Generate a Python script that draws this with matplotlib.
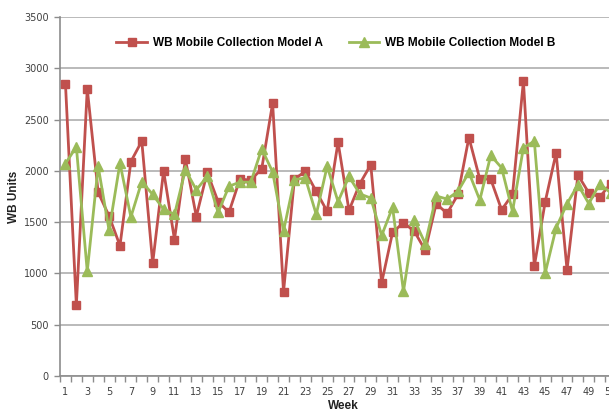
import matplotlib
matplotlib.use("Agg")
import matplotlib.pyplot as plt
from matplotlib.ticker import FixedLocator, MultipleLocator

weeks = list(range(1, 52))
model_a = [2850, 690, 2800, 1790, 1560, 1270, 2090, 2290, 1100, 2000,
           1330, 2115, 1555, 1985, 1700, 1595, 1920, 1910, 2020, 2660,
           820, 1920, 1995, 1800, 1605, 2280, 1615, 1875, 2060, 910,
           1400, 1495, 1410, 1225, 1680, 1585, 1770, 2325, 1920, 1920,
           1620, 1770, 2875, 1070, 1700, 2175, 1035, 1960, 1785, 1745,
           1875]
model_b = [2070, 2235, 1020, 2045, 1420, 2075, 1550, 1895, 1770, 1625,
           1575, 2010, 1815, 1945, 1595, 1850, 1890, 1890, 2215, 1990,
           1415, 1915, 1930, 1575, 2045, 1700, 1945, 1775, 1735, 1370,
           1645, 825, 1520, 1290, 1755, 1725, 1800, 1985, 1715, 2150,
           2030, 1605, 2225, 2290, 1005, 1445, 1680, 1865, 1680, 1875,
           1785]
label_a = "WB Mobile Collection Model A"
label_b = "WB Mobile Collection Model B"
xlabels = [str(w) for w in range(1, 53, 2)]

red = "#C0504D"
green = "#9BBB59"
grid_c = "#B4B4B4"
axis_c = "#8C8C8C"
text_c = "#404040"

fig = plt.figure(figsize=(6.09, 4.12), dpi=100)
ax = fig.add_axes([60/609, 36/412, 567/609, 359/412])

ax.plot(weeks, model_a, color=red, lw=2.0, marker="s", ms=6,
        mec=red, mfc=red, label=label_a, zorder=3)
ax.plot(weeks, model_b, color=green, lw=2.0, marker="^", ms=6.5,
        mec=green, mfc=green, label=label_b, zorder=3)

ax.set_xlim(0.5, 52.5)
ax.set_ylim(0, 3500)
ax.yaxis.set_major_locator(MultipleLocator(500))
ax.set_xticks(list(range(1, 53, 2)))
ax.set_xticklabels(xlabels)
ax.xaxis.set_minor_locator(FixedLocator([i + 0.5 for i in range(0, 53)]))
ax.tick_params(axis="x", which="major", length=0, pad=8,
               labelsize=7, labelcolor=text_c)
ax.tick_params(axis="x", which="minor", length=4, width=1, color=axis_c,
               direction="out")
ax.tick_params(axis="y", which="major", length=4, width=1, color=axis_c,
               labelsize=7, labelcolor=text_c, pad=4)

ax.grid(axis="y", color=grid_c, lw=1.3, zorder=0)
ax.set_axisbelow(True)
for s in ["top", "right"]:
    ax.spines[s].set_visible(False)
for s in ["left", "bottom"]:
    ax.spines[s].set_color(axis_c)
    ax.spines[s].set_linewidth(1.2)

ax.set_ylabel("WB Units", fontsize=8.5, fontweight="bold",
              family="Liberation Sans", color="#222222", labelpad=3)
ax.set_xlabel("Week", fontsize=8.5, fontweight="bold",
              family="Liberation Sans", color="#222222", labelpad=2)

leg = ax.legend(loc="center", bbox_to_anchor=(336/609, 1 - 43/412),
                bbox_transform=fig.transFigure, ncol=2, frameon=False,
                prop={"family": "Liberation Sans", "weight": "bold",
                      "size": 8.5},
                handlelength=2.6, columnspacing=2.2, handletextpad=0.5)

fig.savefig("out.png", dpi=100)
